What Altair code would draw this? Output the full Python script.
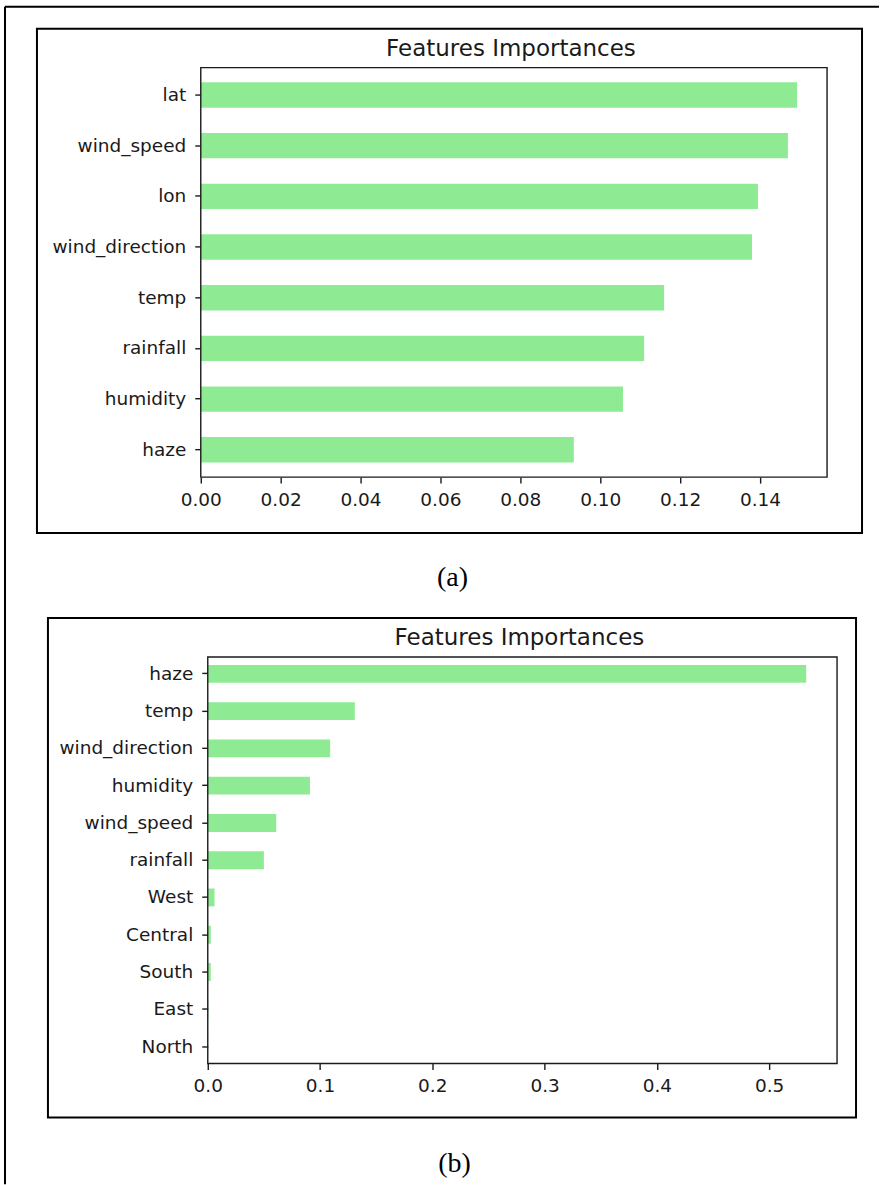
import altair as alt
import pandas as pd

# ---------------- data ----------------
features_a = ["lat", "wind_speed", "lon", "wind_direction", "temp", "rainfall", "humidity", "haze"]
importance_a = [0.1493, 0.1470, 0.1395, 0.1380, 0.1160, 0.1110, 0.1057, 0.0934]

features_b = ["haze", "temp", "wind_direction", "humidity", "wind_speed", "rainfall",
              "West", "Central", "South", "East", "North"]
importance_b = [0.533, 0.131, 0.109, 0.091, 0.061, 0.050, 0.006, 0.0027, 0.0027, 0.0005, 0.0003]

ticks_a = [0.0, 0.02, 0.04, 0.06, 0.08, 0.10, 0.12, 0.14]
ticks_b = [0.0, 0.1, 0.2, 0.3, 0.4, 0.5]

title_text = "Features Importances"
caption_a = "(a)"
caption_b = "(b)"

# ---------------- style ----------------
BAR = "#8eeb93"
INK = "#1a1a1a"
FONT = "DejaVu Sans"
SERIF = "Liberation Serif"
TICK_FS = 18.5
TITLE_FS = 23

one = pd.DataFrame({"k": [0]})


def panel(features, values, ticks, fmt, dmax, x0, w, h, pad_inner, pad_outer,
          caption, cap_x, cap_y, box, extra=None):
    df = pd.DataFrame({"feature": features, "importance": values})
    bars = alt.Chart(df).mark_bar(color=BAR).encode(
        x=alt.X("importance:Q",
                scale=alt.Scale(domain=[0, dmax], range=[x0, x0 + w], nice=False, zero=True),
                axis=alt.Axis(values=ticks, format=fmt, title=None, grid=False, domain=False,
                              tickColor=INK, tickWidth=1.4, tickSize=6, labelPadding=7,
                              labelFontSize=TICK_FS, labelFont=FONT, labelColor=INK,
                              labelFlush=False, labelOverlap=False)),
        y=alt.Y("feature:N", sort=features,
                scale=alt.Scale(paddingInner=pad_inner, paddingOuter=pad_outer),
                axis=alt.Axis(title=None, grid=False, domain=False, offset=-x0,
                              tickColor=INK, tickWidth=1.4, tickSize=6, labelPadding=9,
                              labelFontSize=TICK_FS, labelFont=FONT, labelColor=INK,
                              labelOverlap=False)),
    )
    spine = alt.Chart(one).mark_rect(fillOpacity=0, stroke=INK, strokeWidth=1.4).encode(
        x=alt.value(x0), x2=alt.value(x0 + w), y=alt.value(0), y2=alt.value(h))
    title = alt.Chart(one).mark_text(text=title_text, font=FONT, fontSize=TITLE_FS,
                                     align="center", baseline="alphabetic", color=INK).encode(
        x=alt.value(x0 + w / 2 - 3), y=alt.value(-12))
    frame = alt.Chart(one).mark_rect(fillOpacity=0, stroke="black", strokeWidth=2).encode(
        x=alt.value(box[0]), x2=alt.value(box[1]), y=alt.value(box[2]), y2=alt.value(box[3]))
    cap = alt.Chart(one).mark_text(text=caption, font=SERIF, fontSize=28,
                                   align="center", baseline="middle", color="black").encode(
        x=alt.value(cap_x), y=alt.value(cap_y))
    layers = [bars, spine, title, frame, cap]
    if extra:
        layers += extra
    return alt.layer(*layers).properties(width=x0 + w, height=h)


outer_top = alt.Chart(one).mark_rule(color="black", strokeWidth=2).encode(
    x=alt.value(-196), x2=alt.value(679), y=alt.value(-61))
outer_left = alt.Chart(one).mark_rule(color="black", strokeWidth=2).encode(
    x=alt.value(-196), y=alt.value(-61), y2=alt.value(1118))

panel_a = panel(features_a, importance_a, ticks_a, ".2f", 0.1568, 0, 627, 410, 0.5, 0.29,
                caption_a, 252, 511, (-164, 662, -39, 466), extra=[outer_top, outer_left])
panel_b = panel(features_b, importance_b, ticks_b, ".1f", 0.5605, 7, 630, 407, 0.52, 0.215,
                caption_b, 254, 508, (-153, 656, -39, 461))

chart = alt.vconcat(panel_a, panel_b, spacing=180, bounds="flush").properties(
    padding={"left": 4, "top": 5, "right": 0, "bottom": 0},
    background="white",
).configure_view(stroke=None)

chart.save("out.html", embed_options={"renderer": "svg", "actions": False})
